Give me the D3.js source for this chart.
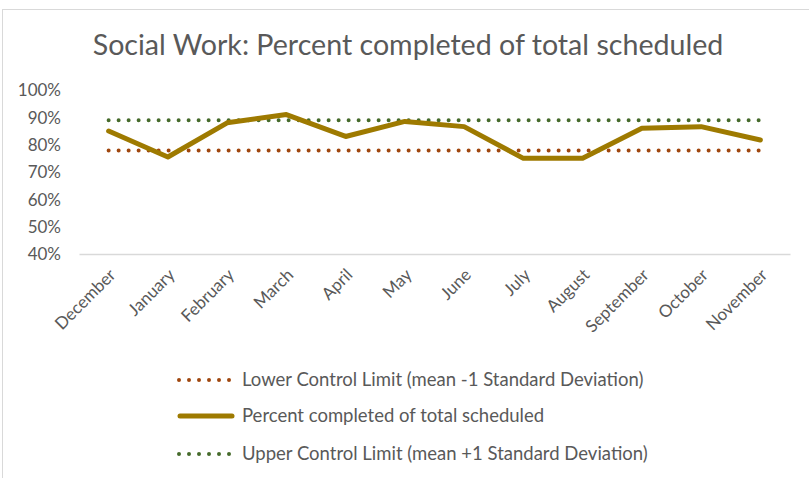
<!DOCTYPE html>
<html>
<head>
<meta charset="utf-8">
<script src="https://cdn.jsdelivr.net/npm/d3@7"></script>
<style>
  body { margin: 0; background: #fff; }
  text { font-family: Lato, "Open Sans", sans-serif; fill: #595959; }
</style>
</head>
<body>
<div id="chart"></div>
<script>
/*
** Data
*/
var months = ["December", "January", "February", "March", "April", "May",
              "June", "July", "August", "September", "October", "November"]
  , percentCompleted = [0.85, 0.755, 0.88, 0.91, 0.83, 0.885,
                        0.866, 0.75, 0.75, 0.86, 0.866, 0.817]
  , lowerLimit = 0.779
  , upperLimit = 0.889
  , yTicks = [0.4, 0.5, 0.6, 0.7, 0.8, 0.9, 1.0]
  , title = "Social Work: Percent completed of total scheduled"
  , legendLabels = ["Lower Control Limit (mean -1 Standard Deviation)",
                    "Percent completed of total scheduled",
                    "Upper Control Limit (mean +1 Standard Deviation)"]
;

/*
** Setup
*/
var width = 809
  , height = 478
  , colors = { lower: "#a0470f", main: "#9e7a00", upper: "#466b2c", axis: "#d9d9d9" }
  , x = d3.scaleBand()
        .domain(months)
        .range([79, 790])
  , y = d3.scaleLinear()
        .domain([0.4, 1.0])
        .range([254, 90])
  , cx = function(d) { return x(d) + x.bandwidth() / 2; }
;

var svg = d3.select("#chart")
  .append("svg")
    .attr("width", width)
    .attr("height", height)
;

// chart border (only left/top edges show in the frame)
svg.append("rect")
    .attr("x", 2.5)
    .attr("y", 9.5)
    .attr("width", width + 10)
    .attr("height", height + 10)
    .attr("fill", "none")
    .attr("stroke", "#d9d9d9")
;

svg.append("text")
    .attr("x", 408)
    .attr("y", 55)
    .attr("text-anchor", "middle")
    .style("font-size", "28.6px")
    .text(title)
;

// y axis labels, no line
var yAxis = d3.axisLeft(y)
    .tickValues(yTicks)
    .tickFormat(d3.format(".0%"))
    .tickSize(0)
    .tickPadding(0)
;
svg.append("g")
    .attr("class", "axis axis--y")
    .attr("transform", "translate(61, 0)")
    .call(yAxis)
  .call(function(g) { g.select(".domain").remove(); })
  .selectAll("text")
    .style("font-size", "17px")
    .attr("dy", "0.35em")
;

// x axis
var xAxis = d3.axisBottom(x)
    .tickSize(0)
    .tickPadding(0)
;
var gx = svg.append("g")
    .attr("class", "axis axis--x")
    .attr("transform", "translate(0, " + y(0.4) + ")")
    .call(xAxis)
;
gx.select(".domain")
    .attr("stroke", colors.axis)
    .attr("stroke-width", 1.5)
;
gx.selectAll(".tick > text")
    .style("font-size", "17px")
    .attr("text-anchor", "end")
    .attr("dy", 0)
    .attr("y", 0)
    .attr("transform", "translate(8, 22) rotate(-45)")
;

// control limits
var limitLine = d3.line()
    .x(function(d) { return cx(d[0]); })
    .y(function(d) { return y(d[1]); })
;
[[lowerLimit, colors.lower], [upperLimit, colors.upper]].forEach(function(l) {
    svg.append("path")
        .datum(months.map(function(m) { return [m, l[0]]; }))
        .attr("d", limitLine)
        .attr("fill", "none")
        .attr("stroke", l[1])
        .attr("stroke-width", 4)
        .attr("stroke-linecap", "round")
        .attr("stroke-dasharray", "0 10")
    ;
});

// main series
svg.append("path")
    .datum(months.map(function(m, i) { return [m, percentCompleted[i]]; }))
    .attr("d", limitLine)
    .attr("fill", "none")
    .attr("stroke", colors.main)
    .attr("stroke-width", 5)
    .attr("stroke-linejoin", "round")
    .attr("stroke-linecap", "round")
;

// legend
var legendY = [380, 416, 454]
  , legendStyle = [
        { color: colors.lower, dash: "0 10", width: 4 },
        { color: colors.main, dash: null, width: 5 },
        { color: colors.upper, dash: "0 10", width: 4 }
    ]
;
var item = svg.selectAll(".legend")
    .data(legendLabels)
  .enter()
  .append("g")
    .attr("class", "legend")
    .attr("transform", function(d, i) { return "translate(0, " + legendY[i] + ")"; })
;
item.append("line")
    .attr("x1", function(d, i) { return legendStyle[i].dash ? 179 : 180; })
    .attr("x2", function(d, i) { return legendStyle[i].dash ? 230 : 232; })
    .attr("stroke", function(d, i) { return legendStyle[i].color; })
    .attr("stroke-width", function(d, i) { return legendStyle[i].width; })
    .attr("stroke-linecap", "round")
    .attr("stroke-dasharray", function(d, i) { return legendStyle[i].dash; })
;
item.append("text")
    .attr("x", 242)
    .attr("dy", "0.35em")
    .style("font-size", "18.5px")
    .text(function(d) { return d; })
;
</script>
</body>
</html>
